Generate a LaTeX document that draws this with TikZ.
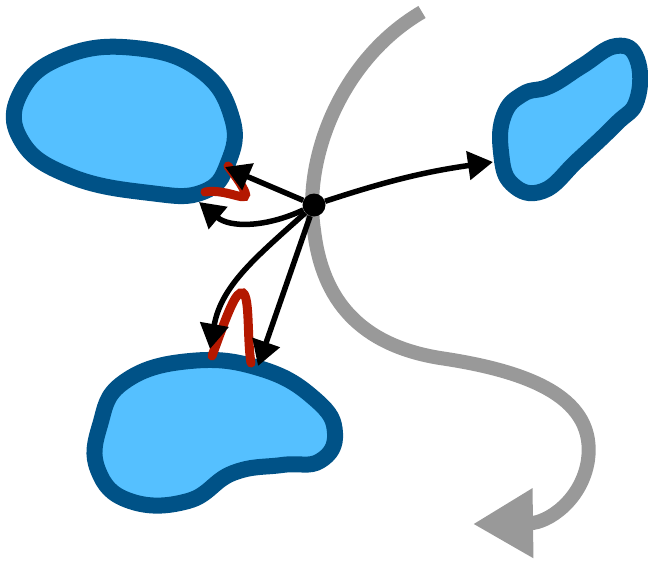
\documentclass[tikz,border=0pt]{standalone}
\usetikzlibrary{arrows.meta}
\definecolor{blobfill}{RGB}{85,192,255}
\definecolor{blobline}{RGB}{0,82,135}
\definecolor{squig}{RGB}{180,24,0}
\definecolor{greyline}{RGB}{153,153,153}
\tikzset{
  blob/.style={fill=blobfill,draw=blobline,line width=16pt,line join=round},
  conn/.style={line width=5.5pt,-{Triangle[length=25pt,width=28pt]}},
  squiggle/.style={draw=squig,line width=9pt,line cap=round},
  dotnode/.style={circle,fill=black,inner sep=0pt,minimum size=23pt}
}
\begin{document}
\begin{tikzpicture}[x=1pt,y=-1pt]
\useasboundingbox (0,0) rectangle (648,562);
% grey curved arrow
\draw[greyline,line width=14pt,-{Triangle[length=60pt,width=66pt]}]
  (422,12) .. controls (340,60) and (303,160) .. (314,230)
  .. controls (322,300) and (360,345) .. (440,358)
  .. controls (535,372) and (596,400) .. (588,460)
  .. controls (582,500) and (548,523) .. (473,524);
% blobs
\draw[blob] plot[smooth cycle,tension=0.75] coordinates
  {(21,92) (65,56) (135,48) (200,70) (232,118) (228,163) (203,192) (150,193) (70,176) (21,140)};
\draw[blob] plot[smooth cycle,tension=0.75] coordinates
  {(504,115) (523,94) (550,86) (582,66) (616,46) (637,59) (637,100) (616,124) (578,160) (543,191) (512,184) (501,152)};
\draw[blob] plot[smooth cycle,tension=0.75] coordinates
  {(100,425) (124,382) (190,361) (262,369) (316,400) (335,433) (320,461) (282,465) (233,473) (188,501) (130,501) (98,470)};
% centre dot
\node[dotnode] (dot) at (314,205) {};
\coordinate (tr) at (493,162);
\coordinate (tl1) at (225,167);
\coordinate (tl2) at (199,202);
\coordinate (b1) at (210,349);
\coordinate (b2) at (258,366);
% red squiggles
\draw[squiggle] (205,192) .. controls (228,188) and (252,206) .. (244,190)
  .. controls (239,180) and (232,172) .. (228,166);
\draw[squiggle] (212,356) .. controls (228,312) and (236,290) .. (243,293)
  .. controls (250,297) and (247,340) .. (251,363);
% arrows
\draw[conn] (dot) to[bend left=5] (tr);
\draw[conn] (dot) -- (tl1);
\draw[conn] (dot) to[out=205,in=-40] (tl2);
\draw[conn] (dot) to[out=222,in=80] (b1);
\draw[conn] (dot) -- (b2);
\end{tikzpicture}
\end{document}
